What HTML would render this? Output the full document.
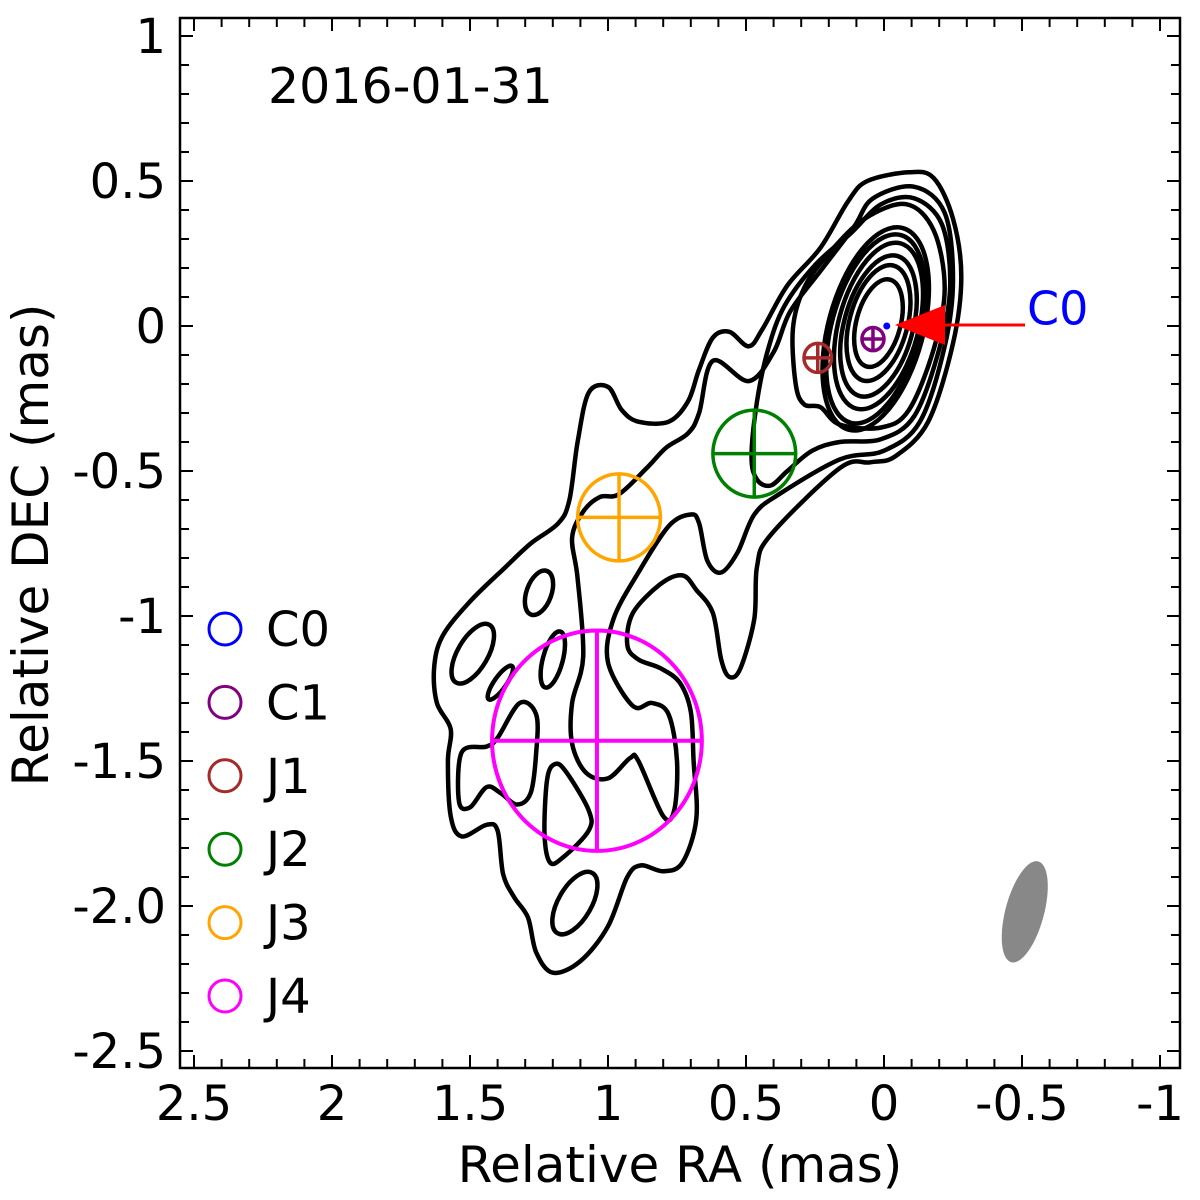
<!DOCTYPE html>
<html><head><meta charset="utf-8">
<style>
html,body{margin:0;padding:0;background:#fff;}
svg{display:block;font-family:"DejaVu Sans","Liberation Sans",sans-serif;}
</style></head>
<body>
<svg id="chart" width="1200" height="1200" viewBox="0 0 1200 1200"></svg>
<script>
// ---- data (mas) ----
const xTickValues=[2.5,2,1.5,1,0.5,0,-0.5,-1];
const xTickLabels=["2.5","2","1.5","1","0.5","0","-0.5","-1"];
const yTickValues=[1,0.5,0,-0.5,-1,-1.5,-2,-2.5];
const yTickLabels=["1","0.5","0","-0.5","-1","-1.5","-2.0","-2.5"];
const outerRA=[-0.09,-0.18,-0.25,-0.28,-0.25,-0.16,-0.04,0.05,0.16,0.41,0.46,0.47,0.52,0.56,0.59,0.62,0.68,0.73,0.81,0.91,0.93,0.89,0.81,0.74,0.70,0.69,0.68,0.73,0.80,0.88,0.93,1.00,1.10,1.20,1.26,1.29,1.34,1.38,1.40,1.44,1.53,1.57,1.58,1.57,1.62,1.63,1.60,1.50,1.37,1.28,1.18,1.14,1.11,1.07,1.00,0.95,0.89,0.78,0.71,0.67,0.62,0.56,0.49,0.44,0.35,0.23,0.13,0.06];
const outerDEC=[0.53,0.51,0.37,0.17,-0.06,-0.33,-0.45,-0.47,-0.49,-0.72,-0.83,-1.01,-1.18,-1.21,-1.15,-0.99,-0.91,-0.86,-0.89,-0.99,-1.10,-1.15,-1.18,-1.23,-1.33,-1.50,-1.70,-1.85,-1.88,-1.86,-1.90,-2.07,-2.19,-2.23,-2.16,-2.04,-1.97,-1.89,-1.74,-1.72,-1.76,-1.69,-1.50,-1.39,-1.30,-1.18,-1.07,-0.95,-0.83,-0.75,-0.68,-0.60,-0.40,-0.23,-0.21,-0.29,-0.33,-0.33,-0.26,-0.15,-0.04,-0.02,-0.07,-0.01,0.14,0.27,0.43,0.50];
const secondRA=[-0.11,-0.22,-0.25,-0.22,-0.13,0.00,0.16,0.38,0.47,0.53,0.59,0.64,0.67,0.70,0.78,0.89,0.98,1.00,0.91,0.84,0.78,0.75,0.76,0.80,0.89,0.92,1.00,1.08,1.13,1.13,1.09,1.11,1.13,1.09,1.03,0.96,0.86,0.79,0.71,0.67,0.62,0.49,0.40,0.34,0.23,0.11,0.04];
const secondDEC=[0.48,0.39,0.16,-0.07,-0.33,-0.43,-0.46,-0.58,-0.65,-0.78,-0.85,-0.81,-0.68,-0.65,-0.69,-0.85,-1.01,-1.16,-1.31,-1.30,-1.34,-1.50,-1.67,-1.69,-1.50,-1.49,-1.56,-1.54,-1.44,-1.30,-1.14,-0.87,-0.73,-0.64,-0.59,-0.58,-0.49,-0.42,-0.37,-0.30,-0.12,-0.19,-0.09,0.05,0.19,0.34,0.44];
const thirdRA=[0.16,0.26,0.35,0.41,0.46,0.48,0.46,0.42,0.36,0.25,0.12,0.01,-0.11,-0.21,-0.24,-0.20,-0.11,0.01];
const thirdDEC=[-0.40,-0.43,-0.50,-0.55,-0.53,-0.45,-0.26,-0.08,0.07,0.21,0.32,0.42,0.44,0.35,0.14,-0.08,-0.31,-0.39];
const fourthRA=[0.32,0.33,0.29,0.20,0.07,-0.08,-0.18,-0.22,-0.18,-0.09,0.01,0.16,0.23,0.29];
const fourthDEC=[-0.20,-0.01,0.13,0.25,0.37,0.42,0.33,0.13,-0.08,-0.29,-0.35,-0.34,-0.28,-0.27];
const islandTriRA=[1.22,1.19,1.15,1.07,1.07,1.16,1.21,1.23];
const islandTriDEC=[-1.56,-1.51,-1.54,-1.67,-1.74,-1.83,-1.85,-1.75];
const islandLoopRA=[1.54,1.53,1.44,1.40,1.32,1.26,1.26,1.28,1.33,1.39,1.44,1.50];
const islandLoopDEC=[-1.64,-1.47,-1.45,-1.42,-1.30,-1.34,-1.47,-1.61,-1.65,-1.61,-1.59,-1.66];
// core nested contour ellipses
const coreRA=[0.02,0.02,0.02,0.02,0.03,0.03];
const coreDEC=[0.01,0.01,0.00,0.00,-0.01,-0.01];
const coreSemiRA=[0.08,0.105,0.125,0.145,0.16,0.172];
const coreSemiDEC=[0.155,0.205,0.25,0.295,0.335,0.36];
// isolated islands (ellipses)
const islRA=[1.25,1.49,1.39,1.20,1.12];
const islDEC=[-0.92,-1.13,-1.23,-1.15,-1.99];
const islSemiRA=[0.045,0.055,0.022,0.036,0.06];
const islSemiDEC=[0.08,0.115,0.07,0.10,0.12];
const islAngle=[20,30,35,15,30];
// model components
const compNames=["C0","C1","J1","J2","J3","J4"];
const compColors=["#0000ff","#800080","#a52a2a","#008000","#ffa500","#ff00ff"];
const compRA=[-0.01,0.04,0.24,0.47,0.96,1.04];
const compDEC=[0.00,-0.045,-0.11,-0.44,-0.66,-1.43];
const compSize=[0.0,0.04,0.05,0.15,0.15,0.38];
const beamRA=[-0.51], beamDEC=[-2.02], beamMaj=[0.18], beamMin=[0.07];

// ---- axes ----
const L=180,R=1180,T=18,B=1068;
const xs=v=>884-276*v;
const ys=v=>326-290*v;
const NS="http://www.w3.org/2000/svg";
const svg=document.getElementById('chart');
function el(tag,attrs,parent){const e=document.createElementNS(NS,tag);for(const k in attrs)e.setAttribute(k,attrs[k]);(parent||svg).appendChild(e);return e;}

function smoothClosed(ra,dec){
  const p=ra.map((r,i)=>[xs(r),ys(dec[i])]);const n=p.length;
  let d=`M${p[0][0].toFixed(1)},${p[0][1].toFixed(1)}`;
  for(let i=0;i<n;i++){const p0=p[(i-1+n)%n],p1=p[i],p2=p[(i+1)%n],p3=p[(i+2)%n];
    const c1=[p1[0]+(p2[0]-p0[0])/6,p1[1]+(p2[1]-p0[1])/6];
    const c2=[p2[0]-(p3[0]-p1[0])/6,p2[1]-(p3[1]-p1[1])/6];
    d+=`C${c1[0].toFixed(1)},${c1[1].toFixed(1)} ${c2[0].toFixed(1)},${c2[1].toFixed(1)} ${p2[0].toFixed(1)},${p2[1].toFixed(1)}`;}
  return d+'Z';
}

const gC=el('g',{fill:'none',stroke:'#000','stroke-width':4.5,'stroke-linejoin':'round'});


const traced=[[outerRA,outerDEC,'contour-level-1'],[secondRA,secondDEC,'contour-level-2'],[thirdRA,thirdDEC,'contour-level-3'],[fourthRA,fourthDEC,'contour-level-4'],[islandTriRA,islandTriDEC,'contour-island'],[islandLoopRA,islandLoopDEC,'contour-island']];
traced.forEach(t=>{const e=el('path',{d:smoothClosed(t[0],t[1])},gC);
  
  });
coreRA.forEach((r,i)=>{const cx=xs(r),cy=ys(coreDEC[i]);
  const e=el('ellipse',{cx:cx,cy:cy,rx:coreSemiRA[i]*276,ry:coreSemiDEC[i]*290,transform:`rotate(15 ${cx} ${cy})`},gC);
  
  });
islRA.forEach((r,i)=>{const cx=xs(r),cy=ys(islDEC[i]);
  const e=el('ellipse',{cx:cx,cy:cy,rx:islSemiRA[i]*276,ry:islSemiDEC[i]*290,transform:`rotate(${islAngle[i]} ${cx} ${cy})`},gC);
  
  });

// components
compRA.forEach((r,i)=>{const cx=xs(r),cy=ys(compDEC[i]);const g=el('g',{stroke:compColors[i],fill:'none','stroke-width':i==5?4:3.5});
  
  
  if(i==0){el('circle',{cx:cx,cy:cy,r:3.5,fill:compColors[i],stroke:'none'},g);return;}
  const rx=compSize[i]*276,ry=compSize[i]*290;
  el('ellipse',{cx:cx,cy:cy,rx:rx,ry:ry},g);
  el('line',{x1:cx-rx,y1:cy,x2:cx+rx,y2:cy},g);
  el('line',{x1:cx,y1:cy-ry,x2:cx,y2:cy+ry},g);});

// beam
{const cx=xs(beamRA[0]),cy=ys(beamDEC[0]);
 const b=el('ellipse',{cx:cx,cy:cy,rx:beamMin[0]*276,ry:beamMaj[0]*290,fill:'#888',transform:`rotate(15 ${cx} ${cy})`});
 
 }

// arrow
const ag=el('g',{});


el('line',{x1:1025,y1:325,x2:930,y2:325,stroke:'#ff0000','stroke-width':3},ag);
el('polygon',{points:'895,325 945,305 945,345',fill:'#ff0000'},ag);
const at=el('text',{x:1027,y:312,fill:'#0000ff','font-size':46,'dominant-baseline':'middle'});
at.textContent='C0';



// frame & ticks
const fr=el('rect',{x:L,y:T,width:R-L,height:B-T,fill:'none',stroke:'#000','stroke-width':2.5});


const tg=el('g',{stroke:'#000','stroke-width':2});


for(let k=-11;k<=26;k++){const v=k/10;const x=xs(v);if(x<L+1||x>R-1)continue;const len=(k%5==0)?13:9;
  el('line',{x1:x,y1:B,x2:x,y2:B-len},tg);el('line',{x1:x,y1:T,x2:x,y2:T+len},tg);}
for(let k=-26;k<=11;k++){const v=k/10;const y=ys(v);if(y<T+1||y>B-1)continue;const len=(k%5==0)?13:9;
  el('line',{x1:L,y1:y,x2:L+len,y2:y},tg);el('line',{x1:R,y1:y,x2:R-len,y2:y},tg);}
xTickValues.forEach((v,i)=>{const t=el('text',{x:xs(v),y:1120,'font-size':48,'text-anchor':'middle'});t.textContent=xTickLabels[i];
  
  });
yTickValues.forEach((v,i)=>{const t=el('text',{x:166,y:ys(v)+17,'font-size':48,'text-anchor':'end'});t.textContent=yTickLabels[i];
  
  });
const xt=el('text',{x:680,y:1182,'font-size':50,'text-anchor':'middle'});xt.textContent='Relative RA (mas)';


const yt=el('text',{x:0,y:0,'font-size':50,'text-anchor':'middle',transform:'translate(48 545) rotate(-90)'});yt.textContent='Relative DEC (mas)';


const dt=el('text',{x:268,y:103,'font-size':49});dt.textContent='2016-01-31';



// legend
compNames.forEach((n,i)=>{const y=629+i*73.4;const g=el('g',{});
  
  
  el('circle',{cx:225,cy:y,r:16,fill:'none',stroke:compColors[i],'stroke-width':3},g);
  const t=el('text',{x:266,y:y+17,'font-size':48},g);t.textContent=n;});
</script>
</body></html>
